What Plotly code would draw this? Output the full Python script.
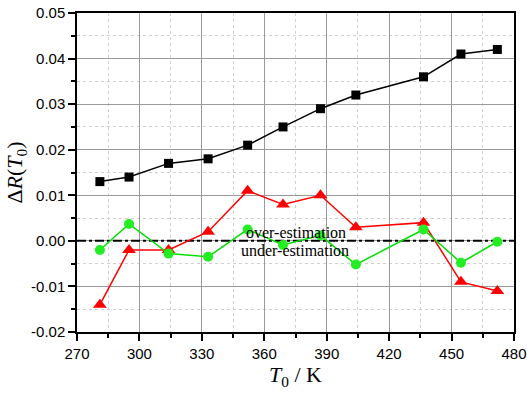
import plotly.graph_objects as go

T0 = [281, 295, 314, 333, 352, 369, 387, 404, 436.5, 454.5, 472]
black_vals = [0.013, 0.014, 0.017, 0.018, 0.021, 0.025, 0.029, 0.032, 0.036, 0.041, 0.042]
red_vals = [-0.014, -0.002, -0.002, 0.002, 0.011, 0.008, 0.010, 0.003, 0.004, -0.009, -0.011]
green_vals = [-0.002, 0.0037, -0.0028, -0.0035, 0.0025, -0.0009, 0.0012, -0.0052, 0.0025, -0.0048, -0.0002]

x_ticks = [270, 300, 330, 360, 390, 420, 450, 480]
y_ticks = [-0.02, -0.01, 0.0, 0.01, 0.02, 0.03, 0.04, 0.05]
y_ticktext = ["-0.02", "-0.01", "0.00", "0.01", "0.02", "0.03", "0.04", "0.05"]

fig = go.Figure()

# zero reference line (dash-dot)
fig.add_trace(go.Scatter(x=[270, 480], y=[0, 0], mode="lines",
                         line=dict(color="black", width=2, dash="dashdot"),
                         hoverinfo="skip", showlegend=False))

fig.add_trace(go.Scatter(x=T0, y=black_vals, mode="lines+markers",
                         line=dict(color="black", width=1.5),
                         marker=dict(symbol="square", size=9, color="black"),
                         showlegend=False))
fig.add_trace(go.Scatter(x=T0, y=red_vals, mode="lines+markers",
                         line=dict(color="#ff0000", width=1.5),
                         marker=dict(symbol="triangle-up", size=12, color="#ff0000"),
                         showlegend=False))
fig.add_trace(go.Scatter(x=T0, y=green_vals, mode="lines+markers",
                         line=dict(color="#00e000", width=1.5),
                         marker=dict(symbol="circle", size=10, color="#22ee22"),
                         showlegend=False))

fig.add_annotation(x=360, y=0.0, xref="x", yref="y", text="over-estimation",
                   showarrow=False, xanchor="left", yanchor="bottom", xshift=-20, yshift=-2,
                   font=dict(family="Liberation Serif", size=16, color="black"))
fig.add_annotation(x=360, y=0.0, xref="x", yref="y", text="under-estimation",
                   showarrow=False, xanchor="left", yanchor="top", xshift=-25, yshift=1,
                   font=dict(family="Liberation Serif", size=16, color="black"))

fig.update_layout(
    width=527, height=398,
    margin=dict(l=77, r=13, t=13, b=66, autoexpand=False),
    paper_bgcolor="white", plot_bgcolor="white",
    font=dict(family="Liberation Sans", size=15, color="black"),
)

fig.update_xaxes(
    range=[270, 480], tickvals=x_ticks, ticktext=[str(v) for v in x_ticks],
    showline=True, linecolor="black", linewidth=1.5, mirror=True,
    ticks="outside", ticklen=7, tickwidth=1.5, tickcolor="black",
    showgrid=True, gridcolor="#9a9a9a", gridwidth=1,
    zeroline=False, automargin=False, ticklabeloverflow="allow",
    minor=dict(dtick=15, tick0=270, ticks="outside", ticklen=4, tickwidth=1.5, tickcolor="black",
               showgrid=True, gridcolor="#d0d0d0", griddash="dot", gridwidth=1),
    title=dict(text="<i>T</i><sub>0</sub> / K", standoff=6,
               font=dict(family="Liberation Serif", size=22, color="black")),
)
fig.update_yaxes(
    range=[-0.02, 0.05], tickvals=y_ticks, ticktext=y_ticktext,
    showline=True, linecolor="black", linewidth=1.5, mirror=True,
    ticks="outside", ticklen=7, tickwidth=1.5, tickcolor="black",
    showgrid=True, gridcolor="#9a9a9a", gridwidth=1,
    zeroline=False, automargin=False, ticklabeloverflow="allow",
    minor=dict(dtick=0.005, tick0=0, ticks="outside", ticklen=4, tickwidth=1.5, tickcolor="black",
               showgrid=True, gridcolor="#d0d0d0", griddash="dot", gridwidth=1),
    title=dict(text="Δ<i>R</i>(<i>T</i><sub>0</sub>)", standoff=2,
               font=dict(family="Liberation Serif", size=22, color="black")),
)

fig.write_html("out.html", config={"displayModeBar": False},
               post_script="document.body.style.margin='0';")
